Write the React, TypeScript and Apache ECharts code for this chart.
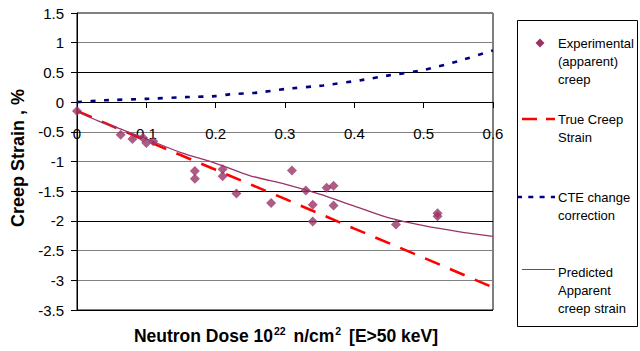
import React, { useEffect, useRef } from 'react';
import * as echarts from 'echarts';

// Experimental (apparent) creep: dose (10^22 n/cm^2) and strain (%)
const expDose = [0, 0.063, 0.08, 0.095, 0.1, 0.11, 0.17, 0.17, 0.21, 0.21, 0.23, 0.28, 0.31, 0.33, 0.34, 0.34, 0.36, 0.37, 0.37, 0.46, 0.52, 0.52];
const expStrain = [-0.15, -0.55, -0.62, -0.6, -0.69, -0.66, -1.16, -1.29, -1.13, -1.25, -1.54, -1.7, -1.15, -1.49, -1.73, -2.01, -1.44, -1.41, -1.74, -2.06, -1.87, -1.92];

// True creep strain
const trueDose = [0, 0.1, 0.2, 0.3, 0.4, 0.5, 0.6];
const trueStrain = [-0.15, -0.65, -1.14, -1.63, -2.13, -2.62, -3.12];

// CTE change correction
const cteDose = [0, 0.04, 0.1, 0.16, 0.2, 0.22, 0.26, 0.3, 0.355, 0.41, 0.45, 0.5, 0.55, 0.6];
const cteStrain = [0, 0.03, 0.055, 0.085, 0.1, 0.13, 0.16, 0.22, 0.28, 0.37, 0.45, 0.54, 0.69, 0.87];

// Predicted apparent creep strain
const predDose = [0, 0.033, 0.067, 0.1, 0.15, 0.2, 0.25, 0.3, 0.35, 0.4, 0.45, 0.5, 0.55, 0.6];
const predStrain = [-0.15, -0.33, -0.47, -0.62, -0.85, -1.03, -1.24, -1.38, -1.55, -1.75, -1.95, -2.08, -2.18, -2.26];

const xMin = 0;
const xMax = 0.6;
const xStep = 0.1;
const yMin = -3.5;
const yMax = 1.5;
const yStep = 0.5;

const legendNames = [
  'Experimental\n(apparent)\ncreep',
  'True Creep\nStrain',
  'CTE change\ncorrection',
  'Predicted\nApparent\ncreep strain',
];

const FONT = '"Liberation Sans", Arial, Helvetica, sans-serif';
const PLUM = '#993366';
const zip = (a: number[], b: number[]) => a.map((v, i) => [v, b[i]]);

const GRID_TOP = 13;
const GRID_BOTTOM_PX = 310;

export default function App() {
  const ref = useRef<HTMLDivElement>(null);
  useEffect(() => {
    if (!ref.current) return;
    const chart = echarts.init(ref.current, null, { renderer: 'svg' });
    const plotH = GRID_BOTTOM_PX - GRID_TOP;
    const zeroOffset = -((0 - yMin) / (yMax - yMin)) * plotH;
    const legendText = (text: string, x: number, yTop: number) => ({
      type: 'text',
      x,
      y: yTop,
      style: {
        text,
        fontFamily: FONT,
        fontSize: 13,
        lineHeight: 18,
        fill: '#000',
        align: 'left',
        verticalAlign: 'top',
      },
    });
    chart.setOption({
      animation: false,
      backgroundColor: '#fff',
      grid: {
        left: 77,
        right: 147,
        top: GRID_TOP,
        bottom: 351 - GRID_BOTTOM_PX,
        show: true,
        borderColor: '#000',
        borderWidth: 1,
        backgroundColor: '#fff',
      },
      xAxis: {
        type: 'value',
        min: xMin,
        max: xMax,
        interval: xStep,
        position: 'bottom',
        offset: zeroOffset,
        axisLine: { show: true, onZero: false, lineStyle: { color: '#000', width: 1 } },
        axisTick: { show: true, inside: false, length: 6, lineStyle: { color: '#000' } },
        axisLabel: { margin: 24, fontSize: 15, color: '#000', fontFamily: FONT },
        splitLine: { show: false },
      },
      yAxis: {
        type: 'value',
        min: yMin,
        max: yMax,
        interval: yStep,
        axisLine: { show: true, onZero: false, lineStyle: { color: '#000', width: 1 } },
        axisTick: { show: true, inside: false, length: 6, lineStyle: { color: '#000' } },
        axisLabel: { margin: 13, fontSize: 15, color: '#000', fontFamily: FONT },
        splitLine: {
          show: true,
          lineStyle: { color: ['#000', '#808080', '#808080', '#000'], width: 1 },
        },
      },
      series: [
        {
          type: 'line',
          name: 'True Creep Strain',
          data: zip(trueDose, trueStrain),
          symbol: 'none',
          lineStyle: { color: '#ff0000', width: 2.6, type: [16, 11] },
          z: 2,
        },
        {
          type: 'line',
          name: 'CTE change correction',
          data: zip(cteDose, cteStrain),
          symbol: 'none',
          smooth: 0.2,
          lineStyle: { color: '#000080', width: 2.6, type: [5, 8.5] },
          z: 2,
        },
        {
          type: 'line',
          name: 'Predicted Apparent creep strain',
          data: zip(predDose, predStrain),
          symbol: 'none',
          smooth: 0.3,
          lineStyle: { color: PLUM, width: 1.3 },
          z: 3,
        },
        {
          type: 'scatter',
          name: 'Experimental (apparent) creep',
          data: zip(expDose, expStrain),
          symbol: 'diamond',
          symbolSize: 10,
          itemStyle: { color: PLUM },
          z: 4,
        },
      ],
      graphic: [
        {
          type: 'text',
          x: 18,
          y: 158,
          rotation: Math.PI / 2,
          style: {
            text: 'Creep Strain , %',
            fontFamily: FONT,
            fontSize: 18,
            fontWeight: 'bold',
            fill: '#000',
            align: 'center',
            verticalAlign: 'middle',
          },
        },
        {
          type: 'text',
          x: 286,
          y: 336,
          style: {
            text: '{b|Neutron Dose 10}{s|22}{b| n/cm}{s|2}{b| [E>50 keV]}',
            align: 'center',
            verticalAlign: 'middle',
            fill: '#000',
            rich: {
              b: { fontFamily: FONT, fontSize: 17.5, fontWeight: 'bold', fill: '#000' },
              s: { fontFamily: FONT, fontSize: 10.5, fontWeight: 'bold', fill: '#000', padding: [0, 3, 10, 1] },
            },
          },
        },
        {
          type: 'rect',
          shape: { x: 517.5, y: 20.5, width: 120, height: 306 },
          style: { fill: '#fff', stroke: '#000', lineWidth: 1 },
        },
        {
          type: 'polygon',
          shape: { points: [[540, 38.5], [544.5, 43], [540, 47.5], [535.5, 43]] },
          style: { fill: PLUM },
        },
        legendText(legendNames[0], 558, 34),
        {
          type: 'line',
          shape: { x1: 522, y1: 119, x2: 555, y2: 119 },
          style: { stroke: '#ff0000', lineWidth: 2.6, lineDash: [15, 9] },
        },
        legendText(legendNames[1], 558, 110),
        {
          type: 'line',
          shape: { x1: 517, y1: 197, x2: 555, y2: 197 },
          style: { stroke: '#000080', lineWidth: 2.6, lineDash: [5, 6.3] },
        },
        legendText(legendNames[2], 558, 188),
        {
          type: 'line',
          shape: { x1: 522, y1: 269.5, x2: 555, y2: 269.5 },
          style: { stroke: PLUM, lineWidth: 1.2 },
        },
        legendText(legendNames[3], 558, 263),
      ],
    });
    return () => chart.dispose();
  }, []);
  return (
    <div
      ref={ref}
      style={{ position: 'absolute', left: 0, top: 0, width: 640, height: 351 }}
    />
  );
}
